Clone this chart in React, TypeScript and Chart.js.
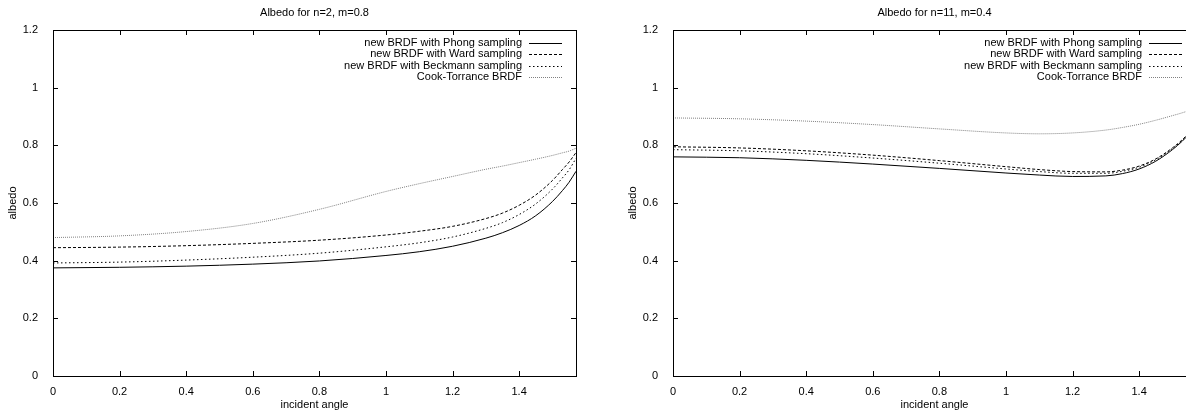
import React, { useEffect, useRef } from "react";
import { Chart, registerables } from "chart.js";

Chart.register(...registerables);

// ---------- data ----------
const angles = [0, 0.2, 0.4, 0.6, 0.8, 1.0, 1.1, 1.2, 1.3, 1.35, 1.4, 1.45, 1.5, 1.53, 1.55, 1.5708];
const xTickValues = [0, 0.2, 0.4, 0.6, 0.8, 1, 1.2, 1.4];
const xTickLabels = ["0", "0.2", "0.4", "0.6", "0.8", "1", "1.2", "1.4"];
const yTickValues = [0, 0.2, 0.4, 0.6, 0.8, 1, 1.2];
const yTickLabels = ["0", "0.2", "0.4", "0.6", "0.8", "1", "1.2"];
const xMax = 1.5708;
const yMax = 1.2;

const seriesLabels = [
  "new BRDF with Phong sampling",
  "new BRDF with Ward sampling",
  "new BRDF with Beckmann sampling",
  "Cook-Torrance BRDF",
];

const leftTitle = "Albedo for n=2, m=0.8";
const rightTitle = "Albedo for n=11, m=0.4";
const xAxisTitle = "incident angle";
const yAxisTitle = "albedo";

// n=2, m=0.8
const leftPhong = [0.375, 0.377, 0.381, 0.388, 0.399, 0.418, 0.431, 0.450, 0.478, 0.497, 0.522, 0.556, 0.605, 0.643, 0.672, 0.71];
const leftWard = [0.445, 0.447, 0.452, 0.460, 0.471, 0.489, 0.502, 0.519, 0.546, 0.565, 0.592, 0.628, 0.678, 0.716, 0.742, 0.775];
const leftBeckmann = [0.392, 0.395, 0.402, 0.412, 0.426, 0.448, 0.462, 0.482, 0.512, 0.532, 0.560, 0.597, 0.648, 0.687, 0.715, 0.755];
const leftCook = [0.480, 0.486, 0.501, 0.529, 0.578, 0.640, 0.667, 0.692, 0.717, 0.728, 0.740, 0.752, 0.765, 0.774, 0.780, 0.790];

// n=11, m=0.4
const rightPhong = [0.760, 0.757, 0.748, 0.735, 0.720, 0.704, 0.697, 0.692, 0.694, 0.702, 0.718, 0.745, 0.785, 0.815, 0.840, 0.875];
const rightWard = [0.795, 0.791, 0.781, 0.766, 0.747, 0.726, 0.716, 0.709, 0.708, 0.714, 0.728, 0.753, 0.791, 0.820, 0.844, 0.879];
const rightBeckmann = [0.785, 0.781, 0.771, 0.756, 0.738, 0.718, 0.709, 0.703, 0.703, 0.710, 0.724, 0.750, 0.789, 0.818, 0.842, 0.877];
const rightCook = [0.895, 0.892, 0.884, 0.872, 0.857, 0.843, 0.840, 0.843, 0.853, 0.862, 0.873, 0.887, 0.903, 0.913, 0.921, 0.932];

// ---------- styles ----------
const FONT = "'Liberation Sans', Arial, Helvetica, sans-serif";
const lineStyles = [
  { color: "#000000", dash: [] as number[], width: 1 },
  { color: "#000000", dash: [3, 2], width: 1 },
  { color: "#000000", dash: [1.5, 2.5], width: 1 },
  { color: "#808080", dash: [1, 1], width: 1 },
];

const gnuplotPlugin = {
  id: "gnuplotFrame",
  afterDatasetsDraw(chart: any, _args: any, opts: any) {
    const { ctx, chartArea } = chart;
    const { left, right, top, bottom } = chartArea;
    const xs = chart.scales.x;
    const ys = chart.scales.y;
    ctx.save();
    ctx.strokeStyle = "#000";
    ctx.lineWidth = 1;
    ctx.setLineDash([]);
    // border box
    ctx.strokeRect(Math.round(left) + 0.5, Math.round(top) + 0.5, Math.round(right - left), Math.round(bottom - top));
    const tl = 5;
    ctx.beginPath();
    xTickValues.forEach((v) => {
      const px = Math.round(xs.getPixelForValue(v)) + 0.5;
      ctx.moveTo(px, bottom);
      ctx.lineTo(px, bottom - tl);
      ctx.moveTo(px, top);
      ctx.lineTo(px, top + tl);
    });
    yTickValues.forEach((v) => {
      const py = Math.round(ys.getPixelForValue(v)) + 0.5;
      ctx.moveTo(left, py);
      ctx.lineTo(left + tl, py);
      ctx.moveTo(right, py);
      ctx.lineTo(right - tl, py);
    });
    ctx.stroke();

    // legend (gnuplot style: text right-aligned, sample to the right)
    ctx.font = `11px ${FONT}`;
    ctx.textAlign = "right";
    ctx.textBaseline = "middle";
    ctx.fillStyle = "#000";
    const sampleRight = right - 14;
    const sampleLeft = sampleRight - 33;
    const textRight = sampleLeft - 7;
    chart.data.datasets.forEach((ds: any, i: number) => {
      const y = top + 13 + i * 11.3;
      ctx.fillText(ds.label, textRight, y);
      ctx.beginPath();
      ctx.strokeStyle = ds.borderColor;
      ctx.lineWidth = ds.borderWidth;
      ctx.setLineDash(ds.borderDash || []);
      ctx.moveTo(sampleLeft, Math.round(y) + 0.5);
      ctx.lineTo(sampleRight, Math.round(y) + 0.5);
      ctx.stroke();
    });
    ctx.setLineDash([]);

    // title
    ctx.fillStyle = "#000";
    ctx.textAlign = "center";
    ctx.textBaseline = "middle";
    ctx.fillText(opts.text, (left + right) / 2, 13);
    ctx.restore();
  },
};

function makeConfig(title: string, series: number[][], leftPad: number) {
  return {
    type: "line" as const,
    data: {
      datasets: series.map((vals, i) => ({
        label: seriesLabels[i],
        data: angles.map((a, j) => ({ x: a, y: vals[j] })),
        borderColor: lineStyles[i].color,
        borderDash: lineStyles[i].dash,
        borderWidth: lineStyles[i].width,
        pointRadius: 0,
        fill: false,
        cubicInterpolationMode: "monotone" as const,
      })),
    },
    options: {
      responsive: false,
      animation: false as const,
      devicePixelRatio: 1,
      layout: { padding: { left: leftPad, right: 17, top: 30, bottom: 0 } },
      plugins: {
        legend: { display: false },
        title: { display: false },
        tooltip: { enabled: false },
        gnuplotFrame: { text: title },
      },
      scales: {
        x: {
          type: "linear" as const,
          min: 0,
          max: xMax,
          grid: { display: false },
          border: { display: false },
          afterBuildTicks: (scale: any) => {
            scale.ticks = xTickValues.map((v) => ({ value: v }));
          },
          afterFit: (scale: any) => {
            scale.height = 36;
          },
          ticks: {
            color: "#000",
            padding: 1,
            maxRotation: 0,
            font: { family: FONT, size: 11 },
            callback: (_v: any, i: number) => xTickLabels[i],
          },
          title: {
            display: true,
            text: xAxisTitle,
            color: "#000",
            font: { family: FONT, size: 11 },
            padding: { top: 0, bottom: 0 },
          },
        },
        y: {
          type: "linear" as const,
          min: 0,
          max: yMax,
          grid: { display: false },
          border: { display: false },
          afterBuildTicks: (scale: any) => {
            scale.ticks = yTickValues.map((v) => ({ value: v }));
          },
          afterFit: (scale: any) => {
            scale.width = 53;
          },
          ticks: {
            color: "#000",
            padding: 7,
            font: { family: FONT, size: 11 },
            callback: (_v: any, i: number) => yTickLabels[i],
          },
          title: {
            display: true,
            text: yAxisTitle,
            color: "#000",
            font: { family: FONT, size: 11 },
            padding: { top: 6, bottom: 0 },
          },
        },
      },
    },
    plugins: [gnuplotPlugin],
  };
}

function ChartCanvas(props: { title: string; series: number[][]; leftPad: number; width: number; left: number }) {
  const ref = useRef<HTMLCanvasElement | null>(null);
  useEffect(() => {
    if (!ref.current) return;
    const chart = new Chart(ref.current, makeConfig(props.title, props.series, props.leftPad) as any);
    return () => chart.destroy();
  }, []);
  return (
    <canvas
      ref={ref}
      width={props.width}
      height={412}
      style={{ position: "absolute", left: props.left, top: 0, width: props.width, height: 412 }}
    />
  );
}

export default function App() {
  return (
    <div
      style={{
        position: "fixed",
        left: 0,
        top: 0,
        width: 1186,
        height: 412,
        overflow: "hidden",
        background: "#fff",
      }}
    >
      <ChartCanvas title={leftTitle} series={[leftPhong, leftWard, leftBeckmann, leftCook]} leftPad={0} width={593} left={0} />
      <ChartCanvas title={rightTitle} series={[rightPhong, rightWard, rightBeckmann, rightCook]} leftPad={27} width={620} left={593} />
    </div>
  );
}
